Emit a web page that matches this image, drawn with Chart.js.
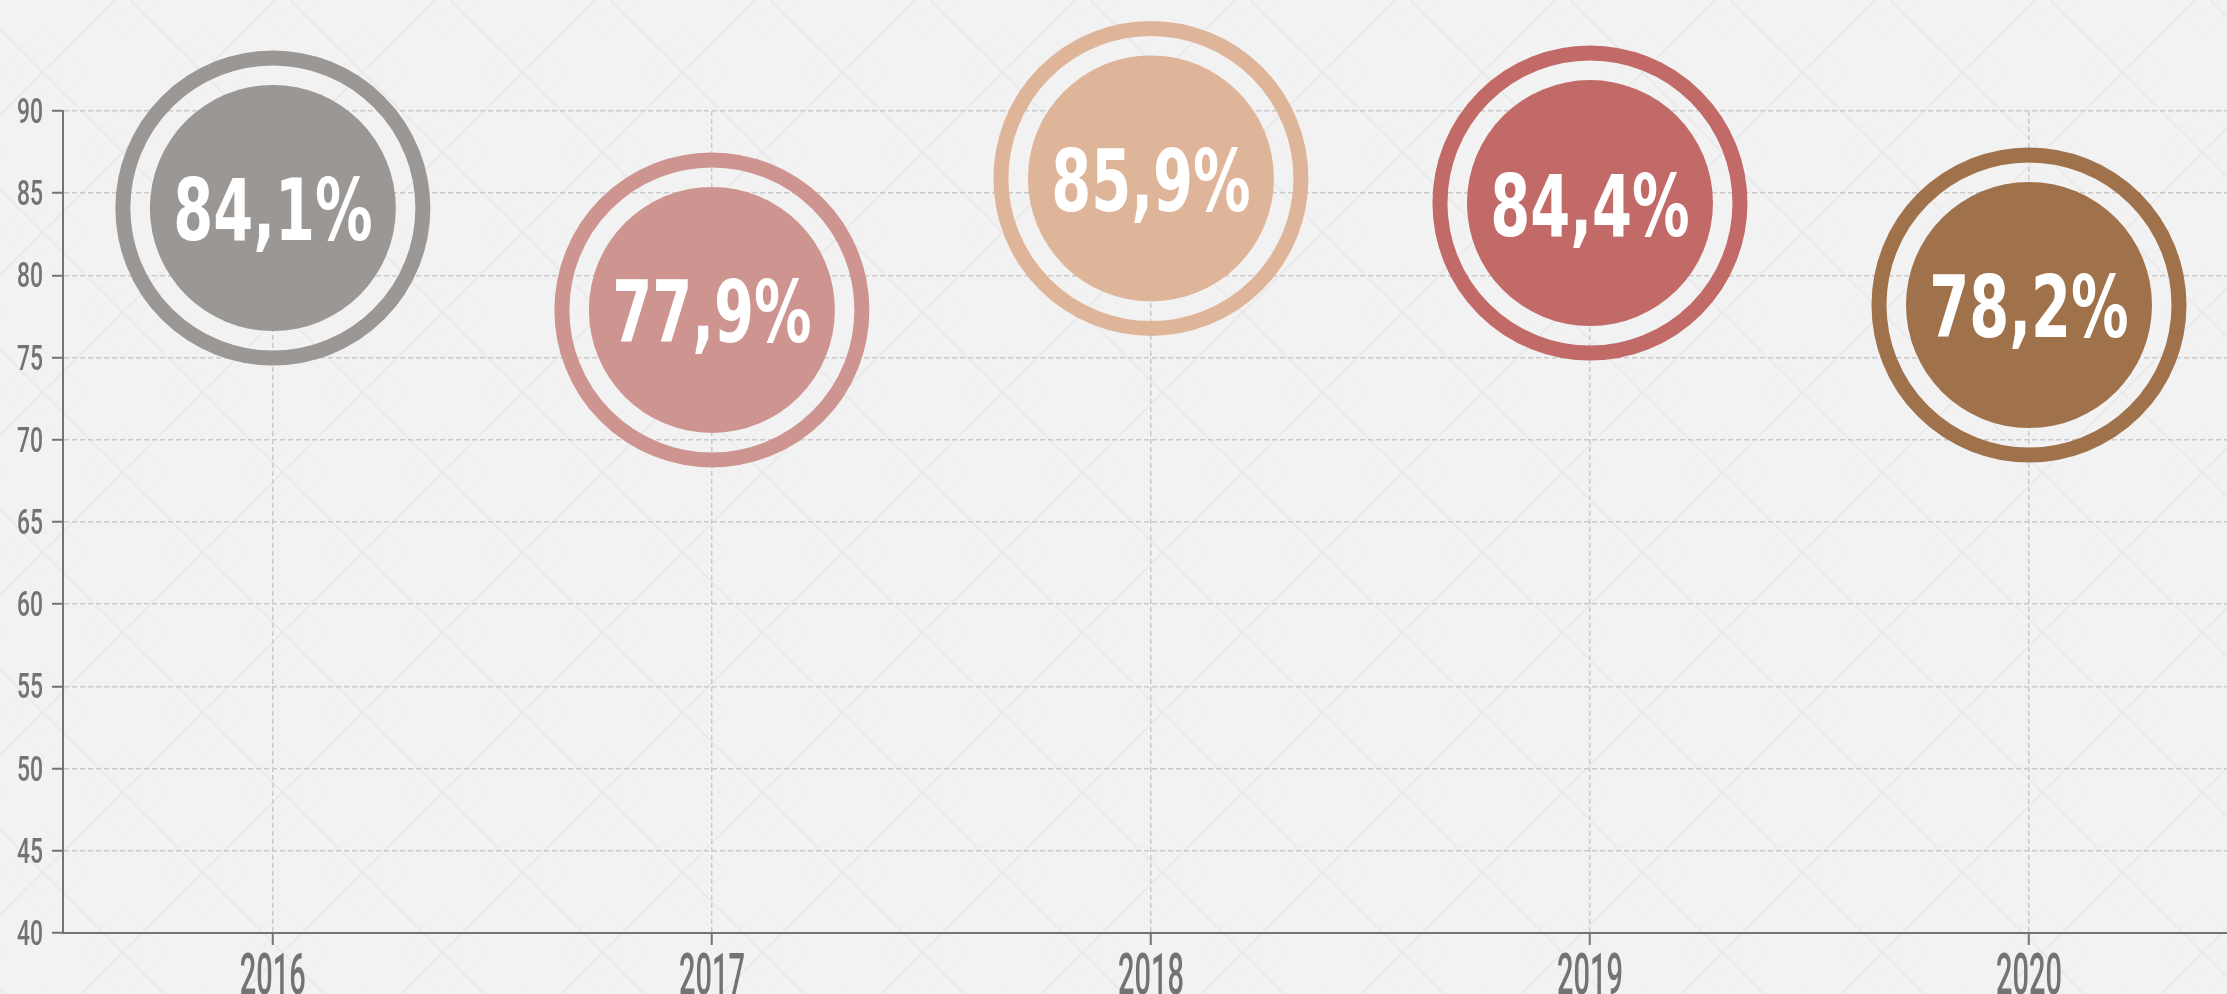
<!DOCTYPE html>
<html>
<head>
<meta charset="utf-8">
<script src="https://cdn.jsdelivr.net/npm/chart.js@4.4.1/dist/chart.umd.min.js"></script>
<style>
  html, body { margin: 0; padding: 0; background: #f2f2f2; overflow: hidden; }
  canvas { display: block; }
</style>
</head>
<body>
<canvas id="chart" width="2227" height="994"></canvas>
<script>
// Yearly share values (percent)
const categories = ['2016', '2017', '2018', '2019', '2020'];
const values = [84.1, 77.9, 85.9, 84.4, 78.2];
const valueLabels = ['84,1%', '77,9%', '85,9%', '84,4%', '78,2%'];
const yTicks = [40, 45, 50, 55, 60, 65, 70, 75, 80, 85, 90];
const colors = ['#9b9795', '#cd9490', '#dfb59a', '#c16a68', '#a0724c'];

const NARROW = "'Liberation Sans Narrow', 'DejaVu Sans Condensed', 'Roboto Condensed', sans-serif";
const AXIS_FONT = "Roboto, 'DejaVu Sans Condensed', sans-serif";
const AXIS_GREY = '#737373';

const points = categories.map((c, i) => ({ x: Number(c), y: values[i] }));

// Draw text on an alphabetic baseline, squeezed to a target digit width and cap height
function fillCondensed(ctx, text, x, baseline, digitW, capH) {
  ctx.save();
  ctx.textBaseline = 'alphabetic';
  const digit = ctx.measureText('0');
  const sx = digitW / digit.width;
  const sy = capH / digit.actualBoundingBoxAscent;
  ctx.translate(x, baseline);
  ctx.scale(sx, sy);
  ctx.fillText(text, 0, 0);
  ctx.restore();
}

// Tick labels: positions come from the scale, glyphs are drawn tall and narrow
function condensedLabels(digitW, capH) {
  return function (scale) {
    scale.drawLabels = function (chartArea) {
      const ctx = this.ctx;
      const items = this.getLabelItems(chartArea);
      const isX = this.isHorizontal();
      ctx.save();
      for (const item of items) {
        const o = item.options;
        ctx.font = item.font.string;
        ctx.fillStyle = o.color;
        ctx.textAlign = o.textAlign;
        const [tx, ty] = o.translation;
        fillCondensed(ctx, String(item.label), tx, isX ? ty + capH : ty + capH / 2, digitW, capH);
      }
      ctx.restore();
    };
  };
}

// Faint diamond lattice behind the plot
const backdrop = {
  id: 'backdrop',
  beforeDraw(chart) {
    const { ctx, width, height } = chart;
    ctx.save();
    ctx.fillStyle = '#f2f2f2';
    ctx.fillRect(0, 0, width, height);
    const P = 160, o1 = 115, o2 = 130;
    ctx.strokeStyle = '#e8e8e8';
    ctx.lineWidth = 1.5;
    ctx.beginPath();
    for (let c = o1 - 2 * P * 10; c < width + height + P; c += P) {
      ctx.moveTo(c, 0); ctx.lineTo(c - height, height);
    }
    for (let c = o2 - P * 10; c < width + P; c += P) {
      ctx.moveTo(c, 0); ctx.lineTo(c + height, height);
    }
    ctx.stroke();
    // inner concentric diamonds
    ctx.strokeStyle = '#eeeeee';
    ctx.lineWidth = 1;
    ctx.beginPath();
    for (let cy = -8 - P; cy < height + P; cy += P / 2) {
      const row = Math.round((cy + 8) / (P / 2));
      const shift = (Math.abs(row) % 2 === 0) ? 0 : P / 2;
      for (let cx = 122 + shift - 2 * P; cx < width + P; cx += P) {
        [0.55, 0.3].forEach(f => {
          const h = (P / 2) * f;
          ctx.moveTo(cx, cy - h); ctx.lineTo(cx + h, cy); ctx.lineTo(cx, cy + h); ctx.lineTo(cx - h, cy); ctx.closePath();
        });
      }
    }
    ctx.stroke();
    ctx.restore();
  }
};

// Percentage text centred in each disc
const discLabels = {
  id: 'discLabels',
  afterDatasetsDraw(chart) {
    const { ctx } = chart;
    const meta = chart.getDatasetMeta(1);
    ctx.save();
    ctx.font = `bold 90px ${NARROW}`;
    ctx.fillStyle = '#ffffff';
    ctx.textAlign = 'center';
    meta.data.forEach((el, i) => {
      fillCondensed(ctx, valueLabels[i], el.x, el.y + 32.5, 40, 65);
    });
    ctx.restore();
  }
};

new Chart(document.getElementById('chart'), {
  type: 'scatter',
  data: {
    datasets: [
      {
        label: 'ring',
        data: points,
        pointRadius: 150,
        pointHoverRadius: 150,
        pointBorderWidth: 15,
        pointHoverBorderWidth: 15,
        pointBackgroundColor: 'rgba(0,0,0,0)',
        pointBorderColor: colors,
        clip: false
      },
      {
        label: 'disc',
        data: points,
        pointRadius: 123,
        pointHoverRadius: 123,
        pointBorderWidth: 0,
        pointHoverBorderWidth: 0,
        pointBackgroundColor: colors,
        pointBorderColor: colors,
        clip: false
      }
    ]
  },
  options: {
    responsive: false,
    animation: false,
    events: [],
    layout: { autoPadding: false, padding: { top: 111, left: 0, right: 0, bottom: 0 } },
    plugins: { legend: { display: false }, tooltip: { enabled: false } },
    scales: {
      x: {
        type: 'linear',
        min: 2015.522,
        max: 2020.451,
        afterBuildTicks(scale) { scale.ticks = categories.map(c => ({ value: Number(c) })); },
        afterFit(scale) { scale.height = 61; },
        afterUpdate: condensedLabels(16.5, 42),
        ticks: {
          callback: (v) => String(v),
          color: AXIS_GREY,
          padding: 7,
          font: { family: AXIS_FONT, size: 40, weight: '500' }
        },
        grid: {
          color: '#cacaca',
          lineWidth: 1.5,
          tickLength: 12,
          tickColor: AXIS_GREY,
          tickWidth: 2
        },
        border: { display: true, color: AXIS_GREY, width: 2, dash: [5, 3] }
      },
      y: {
        min: 40,
        max: 90,
        afterBuildTicks(scale) { scale.ticks = yTicks.map(v => ({ value: v })); },
        afterFit(scale) { scale.width = 63; },
        afterUpdate: condensedLabels(13, 24),
        ticks: {
          color: AXIS_GREY,
          padding: 9,
          font: { family: AXIS_FONT, size: 30, weight: '500' }
        },
        grid: {
          color: '#cacaca',
          lineWidth: 1.5,
          tickLength: 11,
          tickColor: AXIS_GREY,
          tickWidth: 2
        },
        border: { display: true, color: AXIS_GREY, width: 2, dash: [5, 3] }
      }
    }
  },
  plugins: [backdrop, discLabels]
});
</script>
</body>
</html>
